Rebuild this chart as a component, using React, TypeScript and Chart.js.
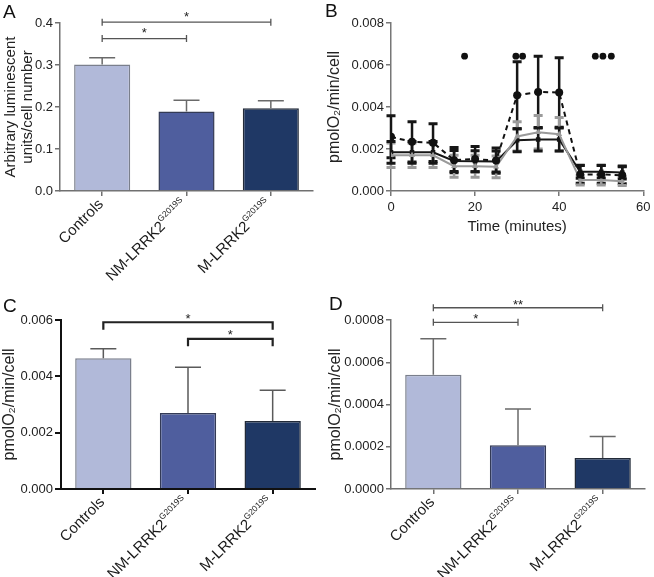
import React, { useEffect, useRef } from "react";
import { Chart, registerables } from "chart.js";

Chart.register(...registerables);

const FONT = "'Liberation Sans', Arial, Helvetica, sans-serif";
Chart.defaults.font.family = FONT;

// ---------- shared categories ----------
const CATEGORIES = ["Controls", "NM-LRRK2", "M-LRRK2"];
const CATEGORY_SUPERSCRIPTS = ["", "G2019S", "G2019S"];
const BAR_COLORS = ["#b1b9d9", "#4f5e9e", "#1f3865"];
const BAR_BORDERS = ["#7a7f8c", "#333a55", "#222a38"];

// ---------- panel A ----------
const A_VALUES = [0.301, 0.189, 0.197];
const A_ERRORS = [0.016, 0.027, 0.018];
const A_TICKS = [0, 0.1, 0.2, 0.3, 0.4];
const A_SIG_FROM = [0, 0];
const A_SIG_TO = [2, 1];
const A_SIG_Y = [0.402, 0.363];
const A_SIG_LABEL = ["*", "*"];

// ---------- panel B ----------
const B_TIME = [0, 5, 10, 15, 20, 25, 30, 35, 40, 45, 50, 55];
const B_CTRL = [0.00258, 0.00234, 0.0023, 0.00147, 0.00152, 0.00145, 0.00456, 0.00472, 0.00469, 0.00079, 0.00079, 0.00075];
const B_CTRL_ERR = [0.001, 0.00096, 0.0009, 0.0006, 0.0006, 0.0006, 0.0016, 0.0017, 0.00166, 0.00042, 0.00042, 0.0004];
const B_NM = [0.0017, 0.0017, 0.0017, 0.00118, 0.00118, 0.00115, 0.0026, 0.0028, 0.0027, 0.00052, 0.00052, 0.00046];
const B_NM_ERR = [0.00058, 0.00058, 0.00058, 0.00052, 0.00052, 0.00052, 0.0007, 0.0008, 0.0008, 0.00023, 0.00023, 0.0002];
const B_M = [0.00184, 0.00184, 0.00184, 0.00143, 0.00142, 0.0014, 0.00242, 0.00245, 0.00245, 0.00092, 0.00092, 0.00088];
const B_M_ERR = [0.00052, 0.00052, 0.00052, 0.0005, 0.0005, 0.0005, 0.00055, 0.00055, 0.00055, 0.00031, 0.00031, 0.00031];
const B_X_TICKS = [0, 20, 40, 60];
const B_Y_TICKS = [0, 0.002, 0.004, 0.006, 0.008];
const B_SIG_DOT_X = [17.5, 29.7, 31.3, 48.6, 50.4, 52.4];
const B_SIG_DOT_Y = 0.00642;

// ---------- panel C ----------
const C_VALUES = [0.00464, 0.0027, 0.00241];
const C_ERRORS = [0.00034, 0.00162, 0.0011];
const C_TICKS = [0, 0.002, 0.004, 0.006];
const C_SIG_FROM = [0, 1];
const C_SIG_TO = [2, 2];
const C_SIG_Y = [0.00592, 0.00533];
const C_SIG_LABEL = ["*", "*"];

// ---------- panel D ----------
const D_VALUES = [0.000541, 0.000207, 0.000147];
const D_ERRORS = [0.00017, 0.000172, 0.000102];
const D_TICKS = [0, 0.0002, 0.0004, 0.0006, 0.0008];
const D_SIG_FROM = [0, 0];
const D_SIG_TO = [2, 1];
const D_SIG_Y = [0.000858, 0.000789];
const D_SIG_LABEL = ["**", "*"];

const TICK_FONT_SIZE = 13;

// ---------- plugins ----------
function drawErrorBar(ctx: CanvasRenderingContext2D, x: number, y1: number, y2: number, capHalf: number, lw: number, capLw: number, color: string) {
  ctx.save();
  ctx.strokeStyle = color;
  ctx.lineCap = "butt";
  ctx.lineWidth = lw;
  ctx.beginPath();
  ctx.moveTo(x, y1);
  ctx.lineTo(x, y2);
  ctx.stroke();
  ctx.lineWidth = capLw;
  ctx.beginPath();
  ctx.moveTo(x - capHalf, y1);
  ctx.lineTo(x + capHalf, y1);
  if (y2 !== y1) {
    ctx.moveTo(x - capHalf, y2);
    ctx.lineTo(x + capHalf, y2);
  }
  ctx.stroke();
  ctx.restore();
}

const barErrorPlugin = {
  id: "barErrors",
  afterDatasetsDraw(chart: any) {
    const ctx = chart.ctx;
    const y = chart.scales.y;
    chart.data.datasets.forEach((ds: any, di: number) => {
      if (!ds.errors) return;
      const meta = chart.getDatasetMeta(di);
      meta.data.forEach((el: any, i: number) => {
        const v = ds.data[i];
        const yTop = y.getPixelForValue(v + ds.errors[i]);
        const yBase = y.getPixelForValue(v);
        ctx.save();
        ctx.strokeStyle = ds.errColor;
        ctx.lineWidth = 1.5;
        ctx.beginPath();
        ctx.moveTo(el.x, yBase);
        ctx.lineTo(el.x, yTop);
        ctx.moveTo(el.x - 13, yTop);
        ctx.lineTo(el.x + 13, yTop);
        ctx.stroke();
        ctx.restore();
      });
    });
  },
};

const lineErrorPlugin = {
  id: "lineErrors",
  beforeDatasetsDraw(chart: any) {
    const ctx = chart.ctx;
    const y = chart.scales.y;
    chart.data.datasets.forEach((ds: any, di: number) => {
      if (!ds.errors) return;
      const meta = chart.getDatasetMeta(di);
      meta.data.forEach((el: any, i: number) => {
        const v = ds.data[i].y;
        const e = ds.errors[i];
        drawErrorBar(ctx, el.x, y.getPixelForValue(v + e), y.getPixelForValue(v - e), 4.5, 2.5, 3, ds.errColor);
      });
    });
  },
};

const sigDotsPlugin = {
  id: "sigDots",
  afterDraw(chart: any) {
    const ctx = chart.ctx;
    const xs = chart.scales.x;
    const ys = chart.scales.y;
    ctx.save();
    ctx.fillStyle = "#111";
    B_SIG_DOT_X.forEach((xv) => {
      ctx.beginPath();
      ctx.arc(xs.getPixelForValue(xv), ys.getPixelForValue(B_SIG_DOT_Y), 3.4, 0, Math.PI * 2);
      ctx.fill();
    });
    ctx.restore();
  },
};

function makeSigPlugin(from: number[], to: number[], yv: number[], labels: string[], style: string, color: string, width: number, gap: number) {
  return {
    id: "sigBrackets",
    afterDraw(chart: any) {
      const ctx = chart.ctx;
      const xs = chart.scales.x;
      const ys = chart.scales.y;
      ctx.save();
      ctx.strokeStyle = color;
      ctx.fillStyle = "#222";
      ctx.lineWidth = width;
      from.forEach((f, k) => {
        const x1 = xs.getPixelForValue(f);
        const x2 = xs.getPixelForValue(to[k]);
        const yy = ys.getPixelForValue(yv[k]);
        ctx.beginPath();
        ctx.moveTo(x1, yy);
        ctx.lineTo(x2, yy);
        if (style === "cap") {
          ctx.moveTo(x1, yy - 3.5);
          ctx.lineTo(x1, yy + 3.5);
          ctx.moveTo(x2, yy - 3.5);
          ctx.lineTo(x2, yy + 3.5);
        } else {
          ctx.moveTo(x1, yy - width / 2);
          ctx.lineTo(x1, yy + 7.5);
          ctx.moveTo(x2, yy - width / 2);
          ctx.lineTo(x2, yy + 7.5);
        }
        ctx.stroke();
        ctx.font = `13px ${FONT}`;
        ctx.textAlign = "center";
        ctx.textBaseline = "alphabetic";
        const m = ctx.measureText(labels[k]);
        const center = yy - gap;
        const yb = center + (m.actualBoundingBoxAscent - m.actualBoundingBoxDescent) / 2;
        ctx.fillText(labels[k], (x1 + x2) / 2, yb);
      });
      ctx.restore();
    },
  };
}

const categoryLabelPlugin = {
  id: "categoryLabels",
  afterDraw(chart: any) {
    const ctx = chart.ctx;
    const xs = chart.scales.x;
    CATEGORIES.forEach((c, i) => {
      const x = xs.getPixelForValue(i);
      const sup = CATEGORY_SUPERSCRIPTS[i];
      ctx.save();
      ctx.translate(x - 1, xs.top + 11);
      ctx.rotate(-Math.PI / 4);
      ctx.fillStyle = "#1a1a1a";
      ctx.textAlign = "left";
      ctx.textBaseline = "middle";
      ctx.font = `15px ${FONT}`;
      const mw = ctx.measureText(c).width;
      ctx.font = `8.5px ${FONT}`;
      const sw = sup ? ctx.measureText(sup).width + 0.5 : 0;
      ctx.font = `15px ${FONT}`;
      ctx.fillText(c, -(mw + sw), 0);
      if (sup) {
        ctx.font = `8.5px ${FONT}`;
        ctx.fillText(sup, -sw, -5.5);
      }
      ctx.restore();
    });
  },
};

// ---------- config builders ----------
type BarOpts = {
  values: number[];
  errors: number[];
  ticks: number[];
  decimals: number;
  title: string | string[];
  titleSize: number;
  titleLineHeight: number;
  titlePad: number;
  yWidth: number;
  xHeight: number;
  padding: { top: number; right: number; left: number; bottom: number };
  axisColor: string;
  axisWidth: number;
  tickLength: number;
  tickPad: number;
  errColor: string;
  sigPlugin: any;
};

function barConfig(o: BarOpts): any {
  const tickFmt = (v: any) => Number(v).toFixed(o.decimals);
  return {
    type: "bar",
    data: {
      labels: CATEGORIES,
      datasets: [
        {
          data: o.values,
          errors: o.errors,
          errColor: o.errColor,
          backgroundColor: BAR_COLORS,
          borderColor: BAR_BORDERS,
          borderWidth: 1.5,
          barPercentage: 0.665,
          categoryPercentage: 1,
        },
      ],
    },
    options: {
      animation: false,
      responsive: false,
      layout: { padding: o.padding },
      plugins: { legend: { display: false }, tooltip: { enabled: false } },
      scales: {
        x: {
          type: "category",
          offset: true,
          grid: { display: true, drawOnChartArea: false, drawTicks: true, tickLength: 5, offset: false, color: o.axisColor, lineWidth: o.axisWidth },
          border: { display: true, color: o.axisColor, width: o.axisWidth },
          ticks: { display: false },
          afterFit: (s: any) => {
            s.height = o.xHeight;
          },
        },
        y: {
          min: o.ticks[0],
          max: o.ticks[o.ticks.length - 1],
          afterBuildTicks: (s: any) => {
            s.ticks = o.ticks.map((v) => ({ value: v }));
          },
          ticks: { callback: tickFmt, padding: o.tickPad, color: "#222", font: { size: TICK_FONT_SIZE } },
          grid: { display: true, drawOnChartArea: false, drawTicks: true, tickLength: o.tickLength, color: o.axisColor, lineWidth: o.axisWidth },
          border: { display: true, color: o.axisColor, width: o.axisWidth },
          title: {
            display: true,
            text: o.title,
            color: "#222",
            font: { size: o.titleSize, lineHeight: o.titleLineHeight },
            padding: { top: o.titlePad, bottom: 0 },
          },
          afterFit: (s: any) => {
            s.width = o.yWidth;
          },
        },
      },
    },
    plugins: [barErrorPlugin, o.sigPlugin, categoryLabelPlugin],
  };
}

function lineConfig(): any {
  const pts = (vals: number[]) => vals.map((v, i) => ({ x: B_TIME[i], y: v }));
  return {
    type: "line",
    data: {
      datasets: [
        {
          data: pts(B_CTRL),
          errors: B_CTRL_ERR,
          errColor: "#161616",
          borderColor: "#111",
          backgroundColor: "#111",
          borderWidth: 2,
          borderDash: [5, 4],
          pointStyle: "circle",
          pointRadius: 4,
          pointBorderWidth: 0,
          tension: 0,
        },
        {
          data: pts(B_NM),
          errors: B_NM_ERR,
          errColor: "#9b9b9b",
          borderColor: "#9a9a9a",
          backgroundColor: "#9a9a9a",
          borderWidth: 2,
          pointStyle: "triangle",
          pointRadius: 3.5,
          pointBorderWidth: 0,
          tension: 0,
        },
        {
          data: pts(B_M),
          errors: B_M_ERR,
          errColor: "#161616",
          borderColor: "#161616",
          backgroundColor: "#161616",
          borderWidth: 2,
          pointStyle: "rect",
          pointRadius: 3.2,
          pointBorderWidth: 0,
          tension: 0,
        },
      ],
    },
    options: {
      animation: false,
      responsive: false,
      layout: { padding: { top: 23, right: 9, left: 0, bottom: 0 } },
      plugins: { legend: { display: false }, tooltip: { enabled: false } },
      scales: {
        x: {
          type: "linear",
          min: B_X_TICKS[0],
          max: B_X_TICKS[B_X_TICKS.length - 1],
          afterBuildTicks: (s: any) => {
            s.ticks = B_X_TICKS.map((v) => ({ value: v }));
          },
          ticks: { padding: 3.5, color: "#222", font: { size: TICK_FONT_SIZE } },
          grid: { display: true, drawOnChartArea: false, drawTicks: true, tickLength: 5, color: "#777", lineWidth: 1.5 },
          border: { display: true, color: "#777", width: 1.5 },
          title: {
            display: true,
            text: "Time (minutes)",
            color: "#222",
            font: { size: 15, lineHeight: 1 },
            padding: { top: 0, bottom: 56 },
          },
          afterFit: (s: any) => {
            s.height = 99;
          },
        },
        y: {
          min: B_Y_TICKS[0],
          max: B_Y_TICKS[B_Y_TICKS.length - 1],
          afterBuildTicks: (s: any) => {
            s.ticks = B_Y_TICKS.map((v) => ({ value: v }));
          },
          ticks: { callback: (v: any) => Number(v).toFixed(3), padding: 2, color: "#222", font: { size: TICK_FONT_SIZE } },
          grid: { display: true, drawOnChartArea: false, drawTicks: true, tickLength: 5, color: "#777", lineWidth: 1.5 },
          border: { display: true, color: "#777", width: 1.5 },
          title: {
            display: true,
            text: "pmolO\u2082/min/cell",
            color: "#222",
            font: { size: 16, lineHeight: 1 },
            padding: { top: 0, bottom: 0 },
          },
          afterFit: (s: any) => {
            s.width = 64;
          },
        },
      },
    },
    plugins: [lineErrorPlugin, sigDotsPlugin],
  };
}

// ---------- components ----------
function ChartCanvas(props: { left: number; top: number; width: number; height: number; make: () => any }) {
  const ref = useRef<HTMLCanvasElement | null>(null);
  useEffect(() => {
    if (!ref.current) return;
    const chart = new Chart(ref.current, props.make());
    return () => chart.destroy();
  }, []);
  return (
    <canvas
      ref={ref}
      width={props.width}
      height={props.height}
      style={{ position: "absolute", left: props.left, top: props.top, width: props.width, height: props.height }}
    />
  );
}

function Letter(props: { text: string; left: number; top: number }) {
  return (
    <span
      style={{
        position: "absolute",
        left: props.left,
        top: props.top,
        fontFamily: FONT,
        fontSize: 19,
        lineHeight: 1,
        color: "#111",
      }}
    >
      {props.text}
    </span>
  );
}

export default function App() {
  return (
    <div style={{ position: "absolute", left: 0, top: 0, width: 654, height: 577, background: "#fff", overflow: "hidden" }}>
      <ChartCanvas
        left={0}
        top={0}
        width={327}
        height={290}
        make={() =>
          barConfig({
            values: A_VALUES,
            errors: A_ERRORS,
            ticks: A_TICKS,
            decimals: 1,
            title: ["Arbitrary luminescent", "units/cell number"],
            titleSize: 15,
            titleLineHeight: 1.1,
            titlePad: 3,
            yWidth: 60,
            xHeight: 99,
            padding: { top: 23, right: 14, left: 0, bottom: 0 },
            axisColor: "#707070",
            axisWidth: 1.5,
            tickLength: 5,
            tickPad: 2,
            errColor: "#6a6a6a",
            sigPlugin: makeSigPlugin(A_SIG_FROM, A_SIG_TO, A_SIG_Y, A_SIG_LABEL, "cap", "#555", 1.3, 8),
          })
        }
      />
      <ChartCanvas left={327} top={0} width={327} height={290} make={lineConfig} />
      <ChartCanvas
        left={0}
        top={290}
        width={327}
        height={287}
        make={() =>
          barConfig({
            values: C_VALUES,
            errors: C_ERRORS,
            ticks: C_TICKS,
            decimals: 3,
            title: "pmolO\u2082/min/cell",
            titleSize: 16,
            titleLineHeight: 1,
            titlePad: 2,
            yWidth: 61,
            xHeight: 88,
            padding: { top: 30, right: 12, left: 0, bottom: 0 },
            axisColor: "#111",
            axisWidth: 2,
            tickLength: 6,
            tickPad: 2,
            errColor: "#5a5a5a",
            sigPlugin: makeSigPlugin(C_SIG_FROM, C_SIG_TO, C_SIG_Y, C_SIG_LABEL, "down", "#222", 2.2, 6),
          })
        }
      />
      <ChartCanvas
        left={327}
        top={290}
        width={327}
        height={287}
        make={() =>
          barConfig({
            values: D_VALUES,
            errors: D_ERRORS,
            ticks: D_TICKS,
            decimals: 4,
            title: "pmolO\u2082/min/cell",
            titleSize: 16,
            titleLineHeight: 1,
            titlePad: 1,
            yWidth: 64,
            xHeight: 88,
            padding: { top: 30, right: 9, left: 0, bottom: 0 },
            axisColor: "#707070",
            axisWidth: 1.5,
            tickLength: 5,
            tickPad: 2,
            errColor: "#6a6a6a",
            sigPlugin: makeSigPlugin(D_SIG_FROM, D_SIG_TO, D_SIG_Y, D_SIG_LABEL, "cap", "#555", 1.3, 5.5),
          })
        }
      />
      <Letter text="A" left={3} top={2} />
      <Letter text="B" left={325} top={1} />
      <Letter text="C" left={3} top={296} />
      <Letter text="D" left={329} top={294} />
    </div>
  );
}
